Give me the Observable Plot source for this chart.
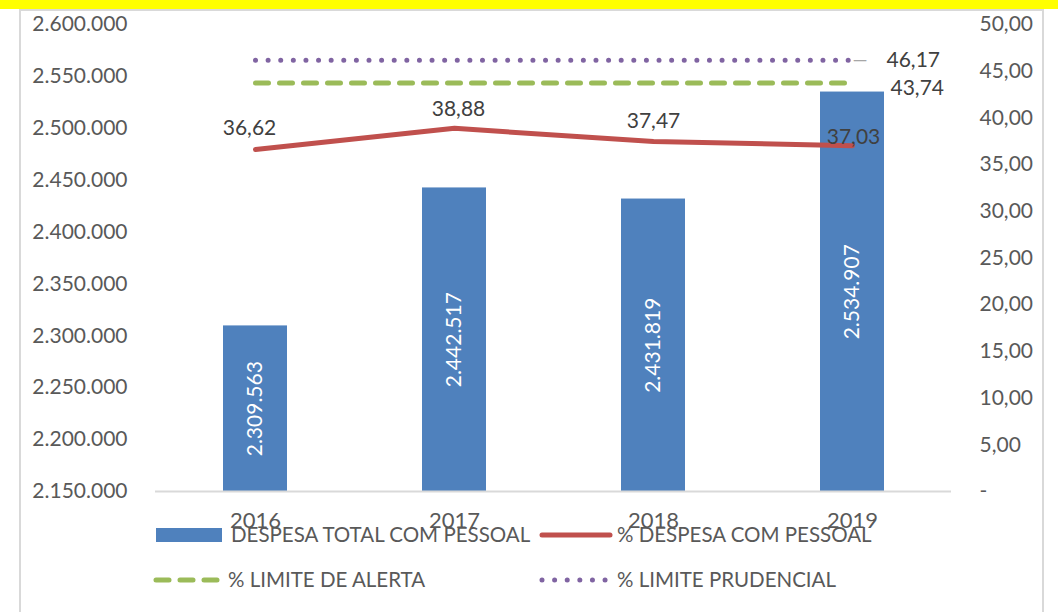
<!DOCTYPE html>
<html><head><meta charset="utf-8">
<script src="https://cdn.jsdelivr.net/npm/d3@7"></script>
<script src="https://cdn.jsdelivr.net/npm/@observablehq/plot@0.6"></script>
<style>
body{margin:0;background:#fff;width:1058px;height:612px;overflow:hidden;position:relative;font-family:Lato,sans-serif}
#band{position:absolute;left:0;top:0;width:1058px;height:9px;background:#ffff00}
#frame{position:absolute;left:19px;top:9px;width:1021px;height:620px;border:2px solid #d9d9d9;border-bottom:none}
#chart{position:absolute;left:0;top:0}
#legend{position:absolute;left:0;top:0}
</style></head><body>
<div id="band"></div>
<div id="frame"></div>
<div id="chart"></div>
<div id="legend"></div>
<script>
const years = ["2016", "2017", "2018", "2019"];
const despesaTotal = [2309563, 2442517, 2431819, 2534907];
const pctDespesa = [36.62, 38.88, 37.47, 37.03];
const pctAlerta = [43.74, 43.74, 43.74, 43.74];
const pctPrudencial = [46.17, 46.17, 46.17, 46.17];
const leftTicks = [2150000, 2200000, 2250000, 2300000, 2350000, 2400000, 2450000, 2500000, 2550000, 2600000];
const rightTicks = [0, 5, 10, 15, 20, 25, 30, 35, 40, 45, 50];
const seriesNames = ["DESPESA TOTAL COM PESSOAL", "% DESPESA COM PESSOAL", "% LIMITE DE ALERTA", "% LIMITE PRUDENCIAL"];

const loc = d3.formatLocale({decimal: ",", thousands: ".", grouping: [3], currency: ["R$", ""]});
const fmtInt = loc.format(",d");
const fmt2 = loc.format(",.2f");

const yMin = leftTicks[0], yMax = leftTicks[leftTicks.length - 1];
const pMax = rightTicks[rightTicks.length - 1];
const toY = p => yMin + p / pMax * (yMax - yMin);
const fromY = v => (v - yMin) / (yMax - yMin) * pMax;

const rows = years.map((year, i) => ({
  year, despesa: despesaTotal[i], pct: pctDespesa[i], alerta: pctAlerta[i], prud: pctPrudencial[i]
}));
const last = rows[rows.length - 1];
const labelDy = [-21, -19, -20, -8];
const labelDx = [-6, 4, 0, 1];

const colors = {bar: "#4F81BD", red: "#C0504D", green: "#9BBB59", purple: "#8064A2"};

const plot = Plot.plot({
  width: 1058,
  height: 612,
  marginLeft: 155,
  marginRight: 107,
  marginTop: 24,
  marginBottom: 121,
  style: {fontFamily: "Lato, sans-serif", fontSize: "21px", color: "#595959", background: "transparent", overflow: "visible"},
  x: {domain: years, paddingInner: 0.68, paddingOuter: 0.34, label: null},
  y: {domain: [yMin, yMax], label: null},
  marks: [
    Plot.barY(rows, {x: "year", y1: () => yMin, y2: "despesa", fill: colors.bar}),
    Plot.ruleY([yMin], {stroke: "#d9d9d9", strokeWidth: 2}),
    Plot.text(rows, {x: "year", y: d => (yMin + d.despesa) / 2, text: d => fmtInt(d.despesa), rotate: -90, fill: "white", fontSize: 21}),
    Plot.line(rows, {x: "year", y: d => toY(d.prud), stroke: colors.purple, strokeWidth: 5, strokeLinecap: "round", strokeDasharray: "0.01,12.6"}),
    Plot.line(rows, {x: "year", y: d => toY(d.alerta), stroke: colors.green, strokeWidth: 5, strokeLinecap: "round", strokeDasharray: "13,11"}),
    Plot.line(rows, {x: "year", y: d => toY(d.pct), stroke: colors.red, strokeWidth: 5, strokeLinecap: "round"}),
    ...rows.map((r, i) => Plot.text([r], {x: "year", y: d => toY(d.pct), text: d => fmt2(d.pct), dx: labelDx[i], dy: labelDy[i], textAnchor: "middle", fill: "#404040", fontSize: 21})),
    Plot.text([last], {x: "year", y: d => toY(d.prud), text: d => fmt2(d.prud), dx: 34, textAnchor: "start", fill: "#404040", fontSize: 21}),
    Plot.text([last], {x: "year", y: d => toY(d.prud), text: () => "—", dx: 0, textAnchor: "start", fill: "#a6a6a6", fontSize: 19}),
    Plot.text([last], {x: "year", y: d => toY(d.alerta), text: d => fmt2(d.alerta), dx: 38, dy: 5, textAnchor: "start", fill: "#404040", fontSize: 21}),
    Plot.axisY(leftTicks, {anchor: "left", tickFormat: fmtInt, tickSize: 0, tickPadding: 28, fontSize: 21}),
    Plot.axisY(rightTicks.map(toY), {anchor: "right", tickFormat: v => { const p = Math.round(fromY(v)); return p === 0 ? "-" : fmt2(p); }, tickSize: 0, tickPadding: 28, fontSize: 21}),
    Plot.axisX({tickSize: 0, tickPadding: 21, fontSize: 22})
  ]
});
document.getElementById("chart").appendChild(plot);

// legend
const lg = d3.select("#legend").append("svg").attr("width", 1058).attr("height", 612)
  .style("font-family", "Lato, sans-serif").style("font-size", "20.5px");
lg.append("rect").attr("x", 156).attr("y", 528).attr("width", 66).attr("height", 14).attr("fill", colors.bar);
lg.append("text").attr("x", 231).attr("y", 542).attr("fill", "#595959").text(seriesNames[0]);
lg.append("line").attr("x1", 542).attr("x2", 610).attr("y1", 535).attr("y2", 535).attr("stroke", colors.red).attr("stroke-width", 5).attr("stroke-linecap", "round");
lg.append("text").attr("x", 617).attr("y", 542).attr("fill", "#595959").text(seriesNames[1]);
lg.append("line").attr("x1", 156).attr("x2", 219).attr("y1", 580).attr("y2", 580).attr("stroke", colors.green).attr("stroke-width", 5).attr("stroke-linecap", "round").attr("stroke-dasharray", "13,11");
lg.append("text").attr("x", 228).attr("y", 587).attr("fill", "#595959").text(seriesNames[2]);
lg.append("line").attr("x1", 542).attr("x2", 606).attr("y1", 580).attr("y2", 580).attr("stroke", colors.purple).attr("stroke-width", 5).attr("stroke-linecap", "round").attr("stroke-dasharray", "0.01,12.6");
lg.append("text").attr("x", 617).attr("y", 587).attr("fill", "#595959").text(seriesNames[3]);
</script>
</body></html>
